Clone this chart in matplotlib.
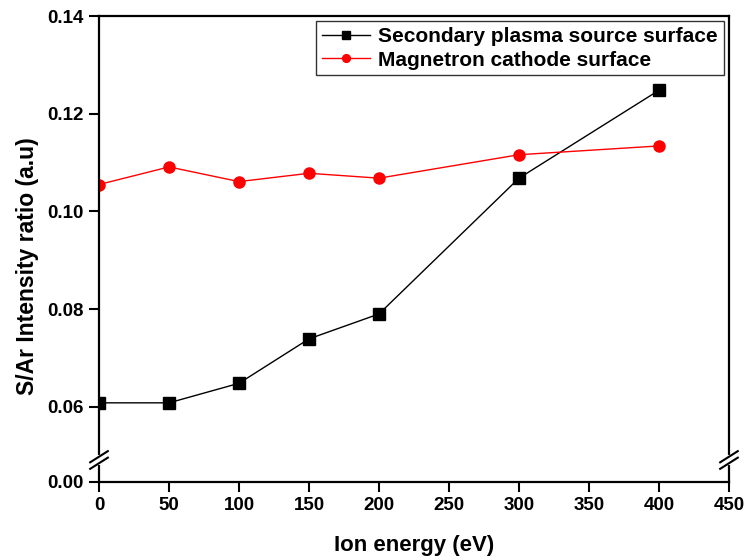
import numpy as np
import matplotlib
matplotlib.use("Agg")
import matplotlib.pyplot as plt

# data
ion_energy = [0, 50, 100, 150, 200, 300, 400]
secondary_plasma = [0.0608, 0.0608, 0.0648, 0.0739, 0.0790, 0.1068, 0.1248]
magnetron_cathode = [0.1055, 0.1091, 0.1061, 0.1078, 0.1068, 0.1116, 0.1134]

y_ticks = [0.00, 0.06, 0.08, 0.10, 0.12, 0.14]
x_ticks = [0, 50, 100, 150, 200, 250, 300, 350, 400, 450]

# broken y axis: below the break the scale is squeezed
brk = 0.0491
squeeze = 0.0918


def fwd(y):
    y = np.asarray(y, dtype=float)
    return np.where(y >= brk, y, brk - (brk - y) * squeeze)


def inv(u):
    u = np.asarray(u, dtype=float)
    return np.where(u >= brk, u, brk - (brk - u) / squeeze)


plt.rcParams['font.family'] = ['Liberation Sans', 'DejaVu Sans']
plt.rcParams['font.weight'] = 'bold'

fig = plt.figure(figsize=(7.45, 5.6), dpi=100)
ax = fig.add_axes([0.1329, 0.1393, 0.8456, 0.8321])

ax.plot(ion_energy, secondary_plasma, color='black', lw=1.0, marker='s',
        markersize=8, label='Secondary plasma source surface')
ax.plot(ion_energy, magnetron_cathode, color='red', lw=1.0, marker='o',
        markersize=8, label='Magnetron cathode surface')

ax.set_yscale('function', functions=(fwd, inv))
ax.set_ylim(0, 0.14)
ax.set_xlim(0, 450)
ax.set_yticks(y_ticks)
ax.set_yticklabels([f'{v:.2f}' for v in y_ticks])
ax.set_xticks(x_ticks)
ax.minorticks_off()

ax.tick_params(direction='out', length=7, width=1.5, labelsize=13.5, pad=4)
for s in ax.spines.values():
    s.set_linewidth(1.6)

ax.set_xlabel('Ion energy (eV)', fontsize=16, fontweight='bold', labelpad=15)
ax.set_ylabel('S/Ar Intensity ratio (a.u)', fontsize=16.5, fontweight='bold')
ax.yaxis.set_label_coords(-0.095, 0.4635)

leg = ax.legend(loc='upper right', fontsize=15, frameon=True, fancybox=False,
                edgecolor='black', borderpad=0.28, handlelength=2.3,
                handletextpad=0.4, markerscale=0.7,
                labelspacing=0.22, borderaxespad=0.25)
leg.get_frame().set_linewidth(1.0)
for t in leg.get_texts():
    t.set_fontweight('bold')

# break marks on both vertical spines
yb = ax.transAxes.inverted().transform(ax.transData.transform((0, brk)))[1]
dx, dy, gap = 0.014, 0.012, 0.007
for xs in (0, 1):
    ax.plot([xs, xs], [yb - gap, yb + gap], transform=ax.transAxes,
            color='white', lw=3, clip_on=False, zorder=5)
    for off in (-gap, gap):
        ax.plot([xs - dx, xs + dx], [yb + off - dy, yb + off + dy],
                transform=ax.transAxes, color='black', lw=1.5,
                clip_on=False, zorder=6)

fig.savefig('out.png', dpi=100)
